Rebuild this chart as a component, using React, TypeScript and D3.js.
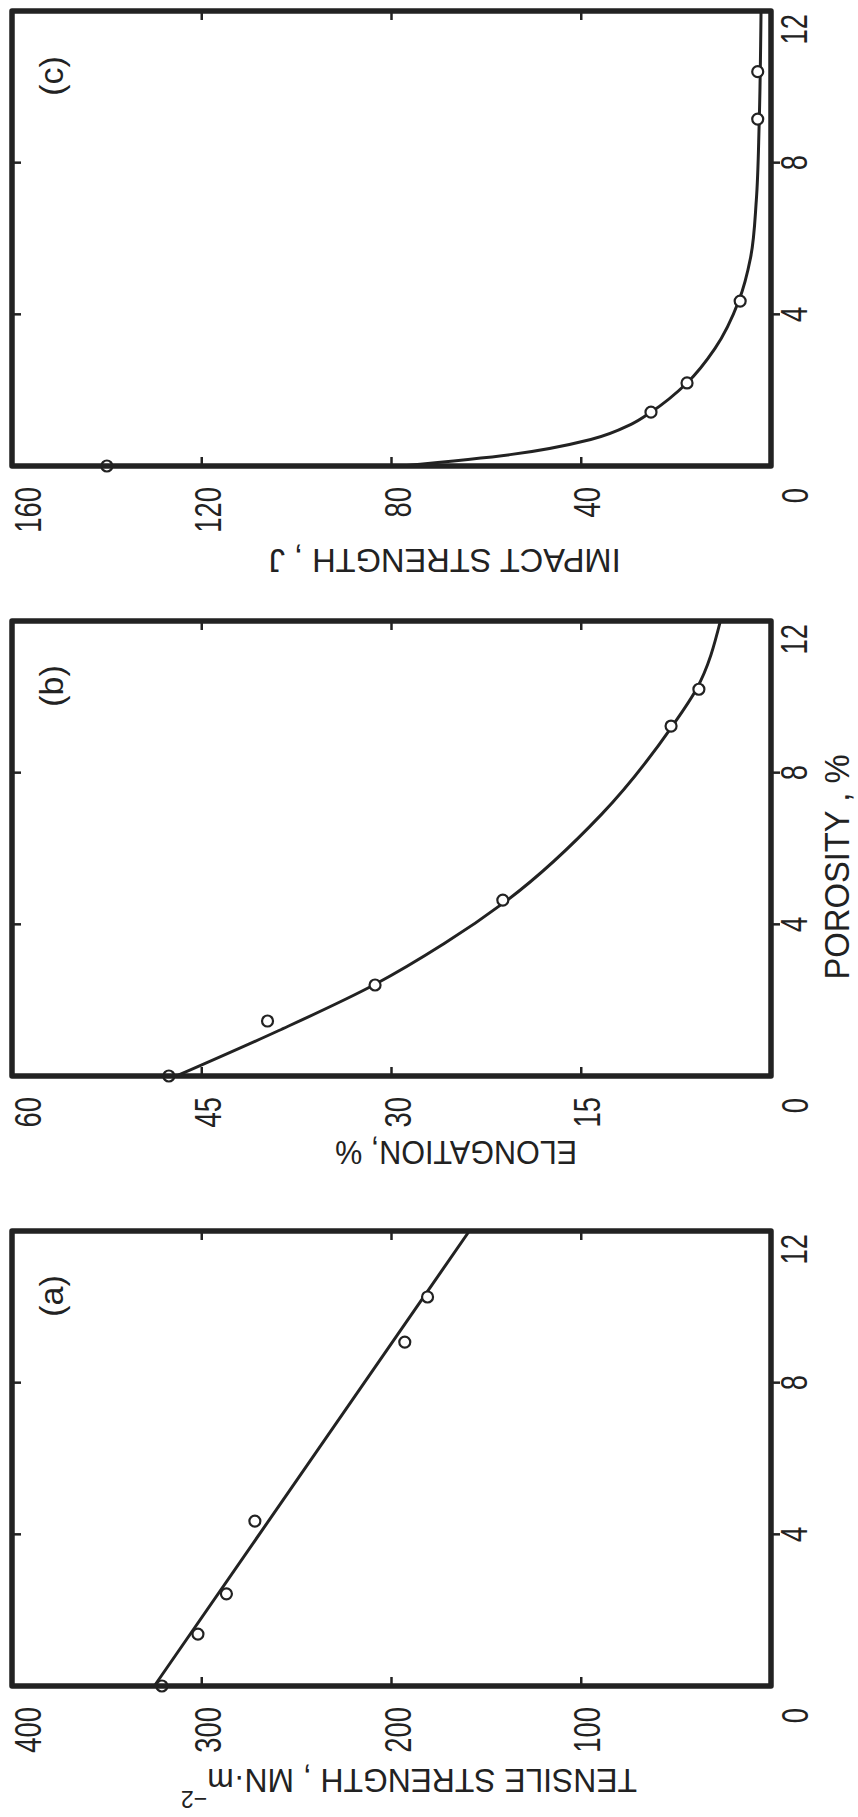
import React from 'react';
import * as d3 from 'd3';

// Page / original (unrotated) layout
const W = 858;
const H = 1817;

// ---------- data ----------
const porosityTicks = [4, 8, 12];

const tensileValueTicks = [0, 100, 200, 300, 400];
const tensilePorosity = [0, 1.37, 2.43, 4.35, 9.07, 10.26];
const tensileStrength = [321, 302, 287, 272, 193, 181];
const tensileFitPorosity = [0, 12];
const tensileFitStrength = [325, 159];

const elongValueTicks = [0, 15, 30, 45, 60];
const elongPorosity = [0, 1.45, 2.4, 4.64, 9.23, 10.2];
const elongation = [47.6, 39.8, 31.3, 21.2, 7.9, 5.7];
const elongFitPorosity = [0, 1.2, 2.4, 3.5, 4.6, 6.9, 9.23, 10.2, 12];
const elongFit = [47, 38.9, 31.4, 25.8, 21.0, 13.4, 7.8, 5.9, 4.0];

const impactValueTicks = [0, 40, 80, 120, 160];
const impactPorosity = [0, 1.42, 2.19, 4.35, 9.15, 10.4];
const impactStrength = [140, 25.3, 17.7, 6.5, 2.8, 2.8];
const impactFitPorosity = [0, 0.3, 0.7, 1.1, 1.42, 2.19, 3.1, 4.35, 5.5, 7, 9, 12];
const impactFit = [78, 55, 38, 29.5, 25.3, 17.7, 11.8, 6.8, 4.3, 3.1, 2.5, 2.1];

// ---------- layout (original orientation, later rotated -90deg) ----------
const PW = 455;
const TOP = 12;
const BOTTOM = 771;
const INK = '#222';
const FONT = '"Liberation Sans", Arial, sans-serif';

type PanelProps = {
  left: number;
  label: string;
  valueTicks: number[];
  title: string;
  sup?: string;
  titleLen: number;
  titleFrac: number;
  pts: [number[], number[]];
  fit: [number[], number[]];
};

function Panel(props: PanelProps) {
  const { left, label, valueTicks, title, sup, titleLen, titleFrac, pts, fit } = props;
  const right = left + PW;
  const vmax = valueTicks[valueTicks.length - 1];
  const x = d3.scaleLinear().domain([0, 12]).range([left, right]);
  const y = d3.scaleLinear().domain([0, vmax]).range([BOTTOM, TOP]);
  const fitData: [number, number][] = fit[0].map((p, i) => [p, fit[1][i]]);
  const line = d3
    .line<[number, number]>()
    .x((d) => x(d[0]))
    .y((d) => y(d[1]))
    .curve(d3.curveMonotoneX);
  const digits = String(vmax).length;
  const titleX = left - (digits >= 3 ? 83 : 65);
  const titleY = TOP + titleFrac * (BOTTOM - TOP);
  const sx = 0.74;
  const tickFont = 37;

  return (
    <g>
      <path d={line(fitData) || ''} fill="none" stroke={INK} strokeWidth={3} strokeLinecap="round" />
      {pts[0].map((p, i) => (
        <circle key={i} cx={x(p)} cy={y(pts[1][i])} r={5.5} fill="white" stroke={INK} strokeWidth={2.2} />
      ))}
      <rect x={left} y={TOP} width={PW} height={BOTTOM - TOP} fill="none" stroke={INK} strokeWidth={5.5} strokeLinejoin="round" />
      {valueTicks.slice(1, -1).map((t) => (
        <g key={'vt' + t}>
          <line x1={left} x2={left + 9} y1={y(t)} y2={y(t)} stroke={INK} strokeWidth={2.5} />
          <line x1={right} x2={right - 9} y1={y(t)} y2={y(t)} stroke={INK} strokeWidth={2.5} />
        </g>
      ))}
      {porosityTicks.slice(0, -1).map((p) => (
        <g key={'pt' + p}>
          <line x1={x(p)} x2={x(p)} y1={BOTTOM} y2={BOTTOM + 9} stroke={INK} strokeWidth={2.5} />
          <line x1={x(p)} x2={x(p)} y1={TOP} y2={TOP + 9} stroke={INK} strokeWidth={2.5} />
        </g>
      ))}
      {valueTicks.map((t, i) => {
        const isTop = i === valueTicks.length - 1;
        const isZero = t === 0;
        const ax = left - (isZero ? 22 : 21);
        const by = isZero ? 808 : y(t) + (isTop ? 29 : 19);
        return (
          <text
            key={'vl' + t}
            transform={`translate(${ax},${by}) scale(${sx},1)`}
            textAnchor="end"
            fontSize={tickFont}
            fontFamily={FONT}
            fill={INK}
          >
            {t}
          </text>
        );
      })}
      {porosityTicks.map((p) => {
        const isEnd = p === 12;
        const ax = isEnd ? x(p) - 3 : x(p);
        return (
          <text
            key={'pl' + p}
            transform={`translate(${ax},807) scale(${sx},1)`}
            textAnchor={isEnd ? 'end' : 'middle'}
            fontSize={tickFont}
            fontFamily={FONT}
            fill={INK}
          >
            {p}
          </text>
        );
      })}
      <text x={right - 65} y={63} textAnchor="middle" fontSize={34} fontFamily={FONT} fill={INK}>
        {label}
      </text>
      <g transform={`translate(${titleX},${titleY}) rotate(-90)`}>
        <text
          x={0}
          y={0}
          textAnchor="middle"
          fontSize={33}
          fontFamily={FONT}
          fill={INK}
          textLength={titleLen}
          lengthAdjust="spacingAndGlyphs"
        >
          {title}
          {sup ? (
            <tspan dy={-22} fontSize={24}>
              {sup}
            </tspan>
          ) : null}
        </text>
      </g>
    </g>
  );
}

export default function App() {
  return (
    <svg
      width={W}
      height={H}
      viewBox={`0 0 ${W} ${H}`}
      style={{ position: 'absolute', left: 0, top: 0, background: 'white' }}
    >
      <rect x={0} y={0} width={W} height={H} fill="white" />
      <g transform={`translate(0,${H}) rotate(-90)`}>
        <Panel
          left={131}
          label="(a)"
          valueTicks={tensileValueTicks}
          title="TENSILE  STRENGTH ,  MN·m"
          sup="−2"
          titleLen={456}
          titleFrac={0.523}
          pts={[tensilePorosity, tensileStrength]}
          fit={[tensileFitPorosity, tensileFitStrength]}
        />
        <Panel
          left={741}
          label="(b)"
          valueTicks={elongValueTicks}
          title="ELONGATION, %"
          titleLen={242}
          titleFrac={0.585}
          pts={[elongPorosity, elongation]}
          fit={[elongFitPorosity, elongFit]}
        />
        <Panel
          left={1351}
          label="(c)"
          valueTicks={impactValueTicks}
          title="IMPACT  STRENGTH , J"
          titleLen={352}
          titleFrac={0.57}
          pts={[impactPorosity, impactStrength]}
          fit={[impactFitPorosity, impactFit]}
        />
        <text
          x={950}
          y={849}
          textAnchor="middle"
          fontSize={35}
          fontFamily={FONT}
          fill={INK}
          textLength={225}
          lengthAdjust="spacingAndGlyphs"
        >
          {'POROSITY , %'}
        </text>
      </g>
    </svg>
  );
}
